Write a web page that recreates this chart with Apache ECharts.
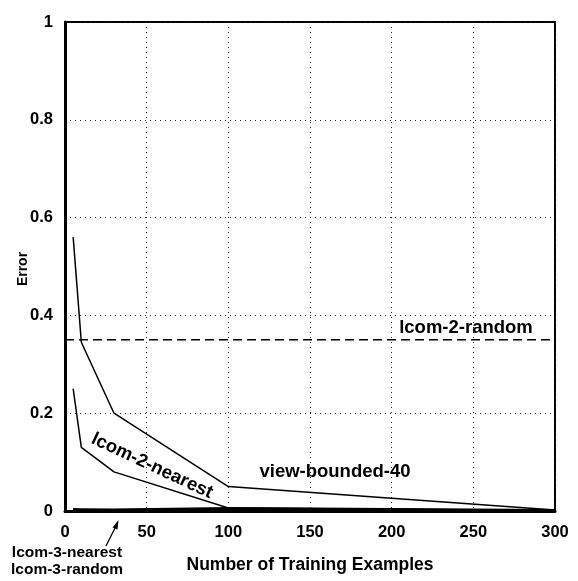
<!DOCTYPE html>
<html>
<head>
<meta charset="utf-8">
<script src="https://cdn.jsdelivr.net/npm/echarts@6/dist/echarts.min.js"></script>
<style>html,body{margin:0;padding:0;background:#fff}#c{width:578px;height:581px}</style>
</head>
<body>
<div id="c"></div>
<script>
// Data
var xTicks = [0, 50, 100, 150, 200, 250, 300];
var yTicks = [0, 0.2, 0.4, 0.6, 0.8, 1];
var viewBoundedX = [5, 10, 30, 100, 300];
var viewBoundedY = [0.56, 0.345, 0.20, 0.05, 0.002];
var lcom2NearestX = [5, 10, 30, 100, 300];
var lcom2NearestY = [0.25, 0.13, 0.08, 0.006, 0.001];
var lcom2RandomX = [0, 300];
var lcom2RandomY = [0.35, 0.35];
var lcom3NearestX = [5, 10, 30, 100, 300];
var lcom3NearestY = [0.004, 0.003, 0.003, 0.006, 0.002];
var lcom3RandomX = [5, 10, 30, 100, 300];
var lcom3RandomY = [0.003, 0.003, 0.002, 0.004, 0.001];

function pairs(xs, ys) { return xs.map(function (x, i) { return [x, ys[i]]; }); }

var font = '"Liberation Sans", Arial, sans-serif';
var chart = echarts.init(document.getElementById('c'), null, {renderer: 'canvas'});
function lineSeries(name, d, extra) {
  return Object.assign({
    name: name, type: 'line', data: d, symbol: 'none', silent: true,
    lineStyle: {color: '#000', width: 1.5}, z: 5
  }, extra || {});
}
chart.setOption({
  animation: false,
  backgroundColor: '#fff',
  grid: {left: 65, right: 23, top: 22, bottom: 70, containLabel: false, outerBoundsMode: 'none',
    show: true, borderColor: '#000', borderWidth: 2},
  xAxis: {
    type: 'value', min: xTicks[0], max: xTicks[xTicks.length - 1], interval: 50,
    name: 'Number of Training Examples', nameLocation: 'middle', nameGap: 45, nameMoveOverlap: false,
    nameTextStyle: {fontFamily: font, fontWeight: 'bold', fontSize: 17.5, color: '#000'},
    axisLine: {lineStyle: {color: '#000', width: 3}},
    axisTick: {show: false},
    axisLabel: {fontFamily: font, fontWeight: 'bold', fontSize: 16.5, color: '#000', margin: 13},
    splitLine: {show: true, lineStyle: {color: '#222', type: [1, 4], width: 1}}
  },
  yAxis: {
    type: 'value', min: yTicks[0], max: yTicks[yTicks.length - 1], interval: 0.2,
    name: '', nameMoveOverlap: false,
    axisLine: {lineStyle: {color: '#000', width: 3}},
    axisTick: {show: false},
    axisLabel: {fontFamily: font, fontWeight: 'bold', fontSize: 16.5, color: '#000', margin: 12},
    splitLine: {show: true, lineStyle: {color: '#222', type: [1, 4], width: 1}}
  },
  series: [
    lineSeries('view-bounded-40', pairs(viewBoundedX, viewBoundedY)),
    lineSeries('lcom-2-nearest', pairs(lcom2NearestX, lcom2NearestY)),
    lineSeries('lcom-2-random', pairs(lcom2RandomX, lcom2RandomY), {lineStyle: {color: '#000', width: 1.5, type: [9, 5]}}),
    lineSeries('lcom-3-nearest', pairs(lcom3NearestX, lcom3NearestY), {lineStyle: {color: '#000', width: 2}}),
    lineSeries('lcom-3-random', pairs(lcom3RandomX, lcom3RandomY), {lineStyle: {color: '#000', width: 2}})
  ],
  graphic: [
    {type: 'text', x: 23, y: 269, rotation: Math.PI / 2, z: 10, style: {text: 'Error', font: 'bold 14px ' + font, fill: '#000', align: 'center', verticalAlign: 'middle'}},
    {type: 'text', x: 466, y: 328, z: 10, style: {text: 'lcom-2-random', font: 'bold 18.5px ' + font, fill: '#000', align: 'center', verticalAlign: 'middle'}},
    {type: 'text', x: 335, y: 472, z: 10, style: {text: 'view-bounded-40', font: 'bold 18.5px ' + font, fill: '#000', align: 'center', verticalAlign: 'middle'}},
    {type: 'text', x: 152, y: 466, rotation: -25 * Math.PI / 180, z: 10,
      style: {text: 'lcom-2-nearest', font: 'bold 18.5px ' + font, fill: '#000', align: 'center', verticalAlign: 'middle'}},
    {type: 'text', x: 67, y: 561, z: 10, style: {text: 'lcom-3-nearest\nlcom-3-random', font: 'bold 15.5px ' + font, lineHeight: 17, fill: '#000', align: 'center', verticalAlign: 'middle'}},
    {type: 'line', z: 10, shape: {x1: 106, y1: 546, x2: 116, y2: 526}, style: {stroke: '#000', lineWidth: 1.3}},
    {type: 'polygon', z: 10, shape: {points: [[118.5, 520], [112.5, 527.5], [117.5, 529.5]]}, style: {fill: '#000'}}
  ]
});
</script>
</body>
</html>
